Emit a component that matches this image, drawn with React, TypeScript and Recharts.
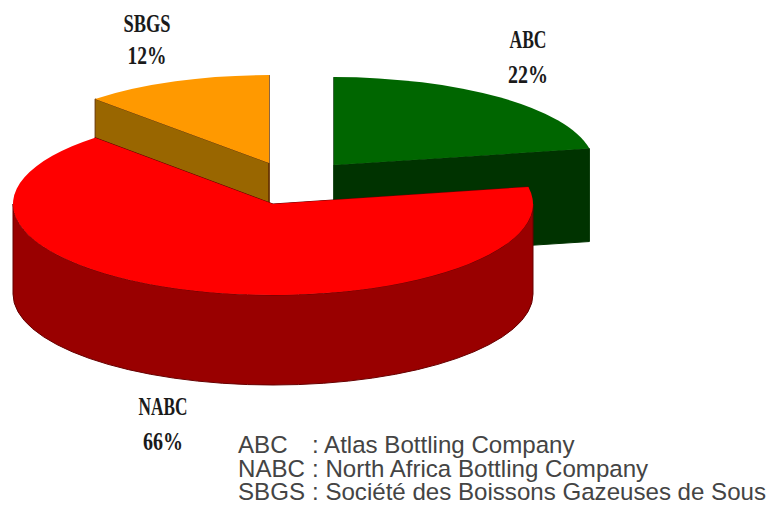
import React from "react";
import { Legend, Pie, PieChart } from "recharts";

// Shares in percent. SBGS comes first so that NABC, the largest slice, paints over the others.
const companies = ["SBGS", "ABC", "NABC"];
const shares = [12, 22, 66];
const legendOrder = ["ABC", "NABC", "SBGS"];
const fullNames: Record<string, string> = {
  ABC: "Atlas Bottling Company",
  NABC: "North Africa Bottling Company",
  SBGS: "Société des Boissons Gazeuses de Sous",
};

const rows = companies.map((name, i) => ({ name, value: shares[i] }));

const WIDTH = 770;
const HEIGHT = 507;
const PIE_CX = 273;
const PIE_CY = 204;
const PIE_RADIUS = 260;

// How each slice is pulled out of the pie and how it is coloured.
const sliceLook: Record<string, any> = {
  SBGS: { dx: -4, dy: -41, sx: 0.977, tilt: 0.338, depth: 93, top: "#FF9900", wall: "#996600", edge: "#663300" },
  ABC: { dx: 61, dy: -39, sx: 1, tilt: 0.338, depth: 93, top: "#006600", wall: "#003300", edge: "#003300" },
  NABC: { dx: 0, dy: 0, sx: 1, tilt: 0.35, depth: 90, top: "#FF0000", wall: "#990000", edge: "#660000" },
};

// Where the two lines of each slice label sit: centre x and the two baselines, with their widths.
const labelSpot: Record<string, any> = {
  SBGS: { x: 147, nameY: 32, valueY: 64, nameW: 47, valueW: 39 },
  ABC: { x: 528, nameY: 48, valueY: 83, nameW: 37, valueW: 40 },
  NABC: { x: 163, nameY: 415, valueY: 450, nameW: 49, valueW: 40 },
};

// Sector drawn as a thick elliptical wedge: cut faces, outer wall, then the top face.
function ThickSlice(props: any) {
  const { cx, cy, outerRadius, startAngle, endAngle, name } = props;
  const look = sliceLook[name ?? props.payload?.name];
  const ox = cx + look.dx;
  const oy = cy + look.dy;
  const rx = outerRadius * look.sx;
  const ry = outerRadius * look.tilt;
  const at = (deg: number, drop = 0) => {
    const a = (deg * Math.PI) / 180;
    return [ox + rx * Math.cos(a), oy - ry * Math.sin(a) + drop];
  };
  const cutFace = (deg: number) => {
    const [x, y] = at(deg);
    const [bx, by] = at(deg, look.depth);
    return `M${ox},${oy} L${x},${y} L${bx},${by} L${ox},${oy + look.depth} Z`;
  };

  // The outer wall only shows along the front half of the ellipse.
  const from = Math.max(endAngle, -180);
  const to = Math.min(startAngle, 0);
  let wallPath = "";
  if (to > from) {
    const [x1, y1] = at(to);
    const [x2, y2] = at(from);
    const [x3, y3] = at(from, look.depth);
    const [x4, y4] = at(to, look.depth);
    wallPath = `M${x1},${y1} A${rx},${ry} 0 0 1 ${x2},${y2} L${x3},${y3} A${rx},${ry} 0 0 0 ${x4},${y4} Z`;
  }

  const [sx, sy] = at(startAngle);
  const [ex, ey] = at(endAngle);
  const large = startAngle - endAngle > 180 ? 1 : 0;
  const topPath = `M${ox},${oy} L${sx},${sy} A${rx},${ry} 0 ${large} 1 ${ex},${ey} Z`;

  return (
    <g>
      <path d={cutFace(startAngle)} fill={look.wall} stroke={look.edge} strokeWidth={1} />
      <path d={cutFace(endAngle)} fill={look.wall} stroke={look.edge} strokeWidth={1} />
      {wallPath && <path d={wallPath} fill={look.wall} stroke={look.edge} strokeWidth={1} />}
      <path d={topPath} fill={look.top} />
    </g>
  );
}

function SliceLabel(props: any) {
  const name = props.name ?? props.payload?.name;
  const spot = labelSpot[name];
  const common = {
    textAnchor: "middle" as const,
    fontFamily: "'Liberation Serif', serif",
    fontWeight: 700,
    fontSize: 25,
    fill: "#1a1a1a",
    lengthAdjust: "spacingAndGlyphs" as const,
  };
  return (
    <g>
      <text {...common} x={spot.x} y={spot.nameY} textLength={spot.nameW}>
        {name}
      </text>
      <text {...common} x={spot.x} y={spot.valueY} textLength={spot.valueW}>
        {`${props.value}%`}
      </text>
    </g>
  );
}

function NameKey() {
  return (
    <div
      style={{
        fontFamily: "'Liberation Sans', Arial, sans-serif",
        fontSize: 24.1,
        lineHeight: "23.5px",
        color: "#444444",
        whiteSpace: "nowrap",
      }}
    >
      {legendOrder.map((abbr) => (
        <div key={abbr}>
          <span style={{ display: "inline-block", width: 74 }}>{abbr}</span>
          <span>: {fullNames[abbr]}</span>
        </div>
      ))}
    </div>
  );
}

export default function App() {
  return (
    <div style={{ position: "absolute", left: 0, top: 0, width: WIDTH, height: HEIGHT, background: "#fff" }}>
      <PieChart width={WIDTH} height={HEIGHT} margin={{ top: 0, right: 0, bottom: 0, left: 0 }}>
        <Pie
          data={rows}
          dataKey="value"
          nameKey="name"
          cx={PIE_CX}
          cy={PIE_CY}
          outerRadius={PIE_RADIUS}
          startAngle={133.2}
          endAngle={-226.8}
          shape={ThickSlice}
          label={SliceLabel}
          labelLine={false}
          isAnimationActive={false}
        />
        <Legend
          content={NameKey}
          wrapperStyle={{ position: "absolute", left: 238, top: 433, width: 532, bottom: "auto" }}
        />
      </PieChart>
    </div>
  );
}
